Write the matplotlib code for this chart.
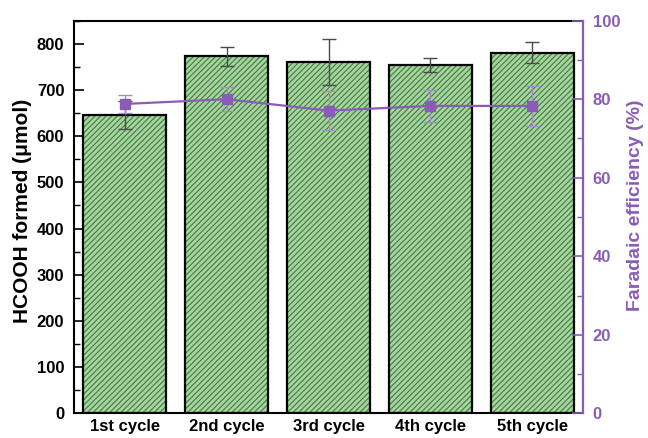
import matplotlib
matplotlib.use("Agg")
import matplotlib.pyplot as plt
import numpy as np
from matplotlib.ticker import MultipleLocator

plt.rcParams['font.family'] = ['Liberation Sans', 'DejaVu Sans']
plt.rcParams['hatch.linewidth'] = 0.9

# Data
cycles = ["1st cycle", "2nd cycle", "3rd cycle", "4th cycle", "5th cycle"]
hcooh_umol = [646, 773, 760, 754, 781]
hcooh_err = [30, 20, 50, 15, 23]
faradaic_eff = [78.8, 80.0, 77.1, 78.3, 78.3]
faradaic_err = [2.2, 3.0, 5.0, 4.0, 5.0]

purple = '#8a5cb8'
purple_light = '#a78ccb'
bar_fill = '#a6d7a0'
hatch_green = '#4d7f48'

fig = plt.figure(figsize=(6.48, 4.38), dpi=100)
ax = fig.add_axes([0.1142, 0.0564, 0.7855, 0.8963])

x = np.arange(len(cycles))
width = 0.815

# Hatched fill, then a black outline on top
ax.bar(x, hcooh_umol, width, color=bar_fill, edgecolor=hatch_green,
       hatch='//////', linewidth=0, zorder=2)
ax.bar(x, hcooh_umol, width, fill=False, edgecolor='black',
       linewidth=1.6, zorder=3)
ax.errorbar(x, hcooh_umol, yerr=hcooh_err, fmt='none', ecolor='#4a4a4a',
            elinewidth=1.0, capsize=5, capthick=1.0, zorder=4)

ax.set_xlim(-0.5, 4.5)
ax.set_ylim(0, 850)
ax.set_xticks(x)
ax.set_xticklabels(cycles, fontsize=12, fontweight='bold')
ax.yaxis.set_major_locator(MultipleLocator(100))
ax.yaxis.set_minor_locator(MultipleLocator(50))
ax.tick_params(axis='y', which='major', direction='in', length=7, width=1.2,
               labelsize=12, pad=7)
ax.tick_params(axis='y', which='minor', direction='in', length=4, width=1.0)
ax.tick_params(axis='x', which='both', length=0, pad=4)
ax.tick_params(axis='y', right=False)
for lbl in ax.get_yticklabels():
    lbl.set_fontweight('bold')
ax.set_ylabel('HCOOH formed (μmol)', fontsize=15, fontweight='bold')
ax.yaxis.set_label_coords(-0.083, 0.515)
for sp in ax.spines.values():
    sp.set_linewidth(1.5)
    sp.set_color('black')

# Faradaic efficiency on the right axis
ax2 = ax.twinx()
ax2.errorbar(x, faradaic_eff, yerr=faradaic_err, fmt='none', ecolor=purple_light,
             elinewidth=1.0, capsize=5, capthick=1.0, zorder=5)
ax2.plot(x, faradaic_eff, color=purple, linewidth=1.6, marker='s',
         markersize=7.5, markerfacecolor=purple, markeredgecolor=purple, zorder=6)
ax2.set_ylim(0, 100)
ax2.yaxis.set_major_locator(MultipleLocator(20))
ax2.yaxis.set_minor_locator(MultipleLocator(10))
ax2.tick_params(axis='y', which='major', direction='in', length=8, width=1.2,
                colors=purple, labelsize=12, pad=7)
ax2.tick_params(axis='y', which='minor', direction='in', length=4, width=1.0,
                colors=purple)
for lbl in ax2.get_yticklabels():
    lbl.set_fontweight('bold')
ax2.set_ylabel('Faradaic efficiency (%)', fontsize=14, fontweight='bold',
               color=purple)
ax2.yaxis.set_label_coords(1.087, 0.53)
ax2.spines['right'].set_color(purple)
ax2.spines['right'].set_linewidth(1.5)
for side in ('left', 'top', 'bottom'):
    ax2.spines[side].set_visible(False)

fig.savefig('out.png', dpi=100)
